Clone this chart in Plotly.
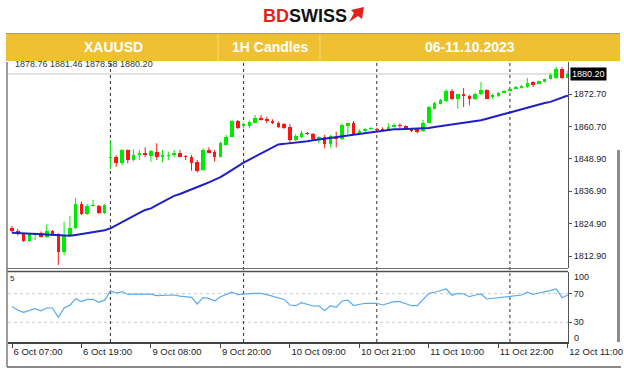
import plotly.graph_objects as go

# ---------------- data ----------------
opens = [1823.46, 1822.35, 1821.02, 1818.66, 1820.76, 1821.61, 1819.91, 1822.24, 1821.02, 1814.60,
         1820.76, 1823.23, 1832.20, 1828.51, 1831.47, 1831.47, 1828.77, 1849.19, 1849.67, 1847.45,
         1852.14, 1848.45, 1850.29, 1851.14, 1850.03, 1851.51, 1849.44, 1850.03, 1850.18, 1851.14,
         1849.92, 1849.67, 1847.71, 1844.76, 1852.14, 1851.51, 1849.67, 1854.09, 1857.05, 1862.96,
         1861.18, 1861.00, 1862.22, 1863.84, 1863.47, 1862.96, 1862.22, 1861.74, 1860.63, 1855.83,
         1856.83, 1858.53, 1858.05, 1856.09, 1857.05, 1854.35, 1857.05, 1856.09, 1861.00, 1862.00,
         1858.05, 1859.04, 1859.78, 1859.89, 1859.78, 1859.26, 1860.74, 1861.48, 1861.00, 1859.89,
         1859.78, 1859.26, 1862.22, 1867.38, 1869.23, 1870.12, 1873.81, 1870.86, 1872.70, 1872.07,
         1870.86, 1872.70, 1874.18, 1871.81, 1872.07, 1873.29, 1874.03, 1874.77, 1875.03, 1875.40,
         1877.24, 1876.61, 1877.24, 1878.46, 1878.72, 1882.15, 1878.76]
highs = [1824.08, 1823.00, 1821.50, 1821.39, 1821.61, 1822.05, 1824.71, 1822.61, 1821.50, 1825.67,
         1827.77, 1834.53, 1833.06, 1832.20, 1833.68, 1831.84, 1832.20, 1855.83, 1850.18, 1852.40,
         1852.40, 1852.40, 1852.14, 1853.14, 1852.14, 1854.61, 1852.14, 1851.51, 1852.14, 1852.14,
         1850.29, 1850.29, 1848.45, 1852.77, 1853.14, 1852.14, 1855.20, 1857.68, 1863.21, 1863.21,
         1862.00, 1862.96, 1865.06, 1865.06, 1864.43, 1863.47, 1862.59, 1862.11, 1861.74, 1858.05,
         1859.26, 1858.89, 1858.42, 1857.31, 1857.68, 1857.68, 1858.89, 1862.00, 1862.22, 1862.84,
         1859.78, 1860.26, 1860.63, 1860.37, 1860.52, 1862.00, 1862.00, 1862.00, 1861.26, 1860.15,
         1860.15, 1863.21, 1868.38, 1869.97, 1870.96, 1874.55, 1874.55, 1872.92, 1875.03, 1872.55,
         1873.29, 1877.24, 1874.55, 1872.92, 1873.55, 1874.29, 1875.03, 1875.76, 1876.13, 1878.72,
         1877.50, 1877.72, 1878.46, 1880.56, 1882.78, 1882.67, 1881.46]
lows = [1821.61, 1820.57, 1818.18, 1818.18, 1818.92, 1819.84, 1819.65, 1820.39, 1809.69, 1813.38,
        1820.39, 1822.98, 1828.14, 1828.14, 1831.20, 1828.51, 1828.51, 1845.01, 1845.97, 1846.49,
        1847.23, 1847.97, 1848.45, 1849.44, 1847.82, 1848.45, 1847.60, 1848.45, 1849.44, 1849.44,
        1848.45, 1844.50, 1843.76, 1844.39, 1850.92, 1847.82, 1849.44, 1853.88, 1856.83, 1859.89,
        1860.15, 1860.15, 1862.00, 1862.96, 1862.00, 1861.74, 1860.26, 1859.89, 1854.61, 1855.46,
        1856.57, 1857.57, 1855.83, 1854.61, 1852.77, 1853.14, 1853.14, 1855.83, 1858.05, 1857.68,
        1857.68, 1858.78, 1859.52, 1859.15, 1859.04, 1859.15, 1860.52, 1860.15, 1859.52, 1858.78,
        1858.30, 1858.78, 1862.11, 1867.16, 1869.01, 1869.86, 1870.60, 1867.38, 1868.01, 1868.64,
        1870.60, 1872.33, 1870.86, 1871.07, 1871.70, 1873.18, 1873.81, 1874.55, 1874.77, 1875.03,
        1875.40, 1876.39, 1877.13, 1878.24, 1878.46, 1878.35, 1878.58]
closes = [1822.24, 1821.02, 1818.66, 1821.02, 1821.39, 1820.13, 1822.24, 1820.76, 1814.60, 1820.76,
          1823.23, 1832.20, 1828.51, 1831.47, 1832.02, 1828.77, 1831.84, 1849.67, 1847.45, 1852.14,
          1848.45, 1850.18, 1851.14, 1850.29, 1851.77, 1849.67, 1850.18, 1850.40, 1850.92, 1849.67,
          1849.44, 1847.45, 1844.50, 1852.14, 1851.14, 1849.67, 1854.61, 1857.05, 1862.96, 1860.15,
          1861.55, 1862.59, 1863.84, 1863.21, 1862.96, 1862.00, 1860.52, 1860.15, 1855.83, 1857.31,
          1858.53, 1858.05, 1856.20, 1857.05, 1854.35, 1857.31, 1856.09, 1861.37, 1862.00, 1858.05,
          1859.26, 1859.89, 1860.15, 1859.52, 1859.26, 1860.52, 1861.37, 1861.00, 1859.78, 1859.26,
          1858.89, 1862.22, 1868.01, 1869.60, 1870.49, 1873.81, 1870.86, 1872.70, 1871.96, 1870.86,
          1872.92, 1874.18, 1871.07, 1872.33, 1873.29, 1873.92, 1874.77, 1875.40, 1875.65, 1876.98,
          1876.24, 1877.50, 1878.24, 1879.93, 1882.15, 1878.72, 1880.20]
moving_avg = [1821.6, 1821.5, 1821.4, 1821.3, 1821.2, 1821.2, 1821.1, 1821.0, 1820.8, 1820.6,
              1820.5, 1820.8, 1821.1, 1821.4, 1821.7, 1822.0, 1822.5, 1823.2, 1824.4, 1825.5,
              1826.7, 1827.8, 1828.9, 1830.0, 1830.6, 1831.8, 1833.0, 1834.1, 1835.2, 1835.9,
              1836.7, 1837.4, 1838.4, 1839.3, 1840.2, 1841.1, 1842.1, 1843.4, 1844.8, 1846.1,
              1847.5, 1848.6, 1849.7, 1850.9, 1852.0, 1853.1, 1854.2, 1854.4, 1854.6, 1854.8,
              1855.1, 1855.4, 1855.7, 1856.0, 1856.3, 1856.6, 1856.9, 1857.2, 1857.5, 1857.8,
              1858.1, 1858.4, 1858.7, 1858.9, 1859.2, 1859.5, 1859.8, 1859.8, 1859.9, 1859.9,
              1859.9, 1860.0, 1860.3, 1860.6, 1860.9, 1861.3, 1861.6, 1861.9, 1862.2, 1862.5,
              1862.6, 1863.1, 1863.7, 1864.2, 1864.8, 1865.4, 1866.0, 1866.6, 1867.2, 1867.8,
              1868.4, 1869.1, 1869.5, 1869.9, 1870.7, 1871.5, 1872.3]
rsi = [52, 47, 44, 47, 49, 46, 50, 50, 37, 50,
       54, 63, 59, 62, 62, 58, 61, 74, 71, 73,
       69, 69.5, 69.6, 69.6, 69.5, 67.2, 67.5, 67.2, 68.2, 66.5,
       65.5, 65, 55.6, 64.4, 63.5, 59.8, 65.8, 69, 72, 68.6,
       69.6, 70, 70.5, 70.5, 68.6, 66.5, 64, 62, 54.2, 53.2,
       57.4, 55, 52.8, 53, 46.2, 53.2, 51, 59.8, 61, 53.5,
       55, 56.6, 56.6, 56.6, 54.2, 57, 58.8, 58.8, 56, 53.2,
       53.2, 62, 70.5, 72, 73.8, 76.6, 67.8, 70.5, 69.6, 65.8,
       68.2, 69.6, 62.6, 63.5, 65, 66, 67.2, 67.5, 68.2, 72,
       69.1, 71, 72.5, 74.2, 76.6, 64.4, 68.2]

time_tick_bars = [0, 12, 24, 36, 48, 60, 72, 84, 96]
time_tick_labels = ["6 Oct 07:00", "6 Oct 19:00", "9 Oct 08:00", "9 Oct 20:00", "10 Oct 09:00",
                    "10 Oct 21:00", "11 Oct 10:00", "11 Oct 22:00", "12 Oct 11:00"]
day_start_bars = [17, 40, 63, 86]
price_ticks = [1884.70, 1872.70, 1860.70, 1848.90, 1836.90, 1824.90, 1812.90]
rsi_levels = [70, 30]
last_price = 1880.20
ohlc_text = "1878.76 1881.46 1878.58 1880.20"

# ---------------- layout helpers (pixel -> paper) ----------------
W, H = 624, 371
ML, MR, MT, MB = 8, 56, 62, 29
PW, PH = W - ML - MR, H - MT - MB
def pxx(x):
    return (x - ML) / PW
def pxy(y):
    return (H - MB - y) / PH

GREEN = "#00ea00"
RED = "#ff1414"
FONT = "Liberation Sans"
TXT = "#1c1c1c"

idx = list(range(len(opens)))
fig = go.Figure()

# wicks
for col, cond in ((GREEN, lambda o, c: c >= o), (RED, lambda o, c: c < o)):
    wx, wy = [], []
    for i in idx:
        if cond(opens[i], closes[i]):
            wx += [i, i, None]
            wy += [lows[i], highs[i], None]
    fig.add_trace(go.Scatter(x=wx, y=wy, mode="lines", line=dict(color=col, width=1),
                             xaxis="x", yaxis="y", hoverinfo="skip"))

# bodies
bases = [min(o, c) for o, c in zip(opens, closes)]
heights = [max(abs(c - o), 0.4) for o, c in zip(opens, closes)]
colors = [GREEN if c >= o else RED for o, c in zip(opens, closes)]
fig.add_trace(go.Bar(x=idx, y=heights, base=bases, width=0.62, marker=dict(color=colors, line=dict(width=0)),
                     xaxis="x", yaxis="y", hoverinfo="skip"))

# moving average
fig.add_trace(go.Scatter(x=idx, y=moving_avg, mode="lines", line=dict(color="#1f1fc8", width=2),
                         xaxis="x", yaxis="y", hoverinfo="skip"))

# RSI
fig.add_trace(go.Scatter(x=idx, y=rsi, mode="lines", line=dict(color="#5aaaf2", width=1.2),
                         xaxis="x", yaxis="y2", hoverinfo="skip"))

shapes = []
shapes.append(dict(type="line", xref="paper", yref="y", x0=0, x1=1, y0=last_price, y1=last_price,
                   line=dict(color="#c4c4c4", width=1), layer="below"))
for lv in rsi_levels:
    shapes.append(dict(type="line", xref="paper", yref="y2", x0=0, x1=1, y0=lv, y1=lv,
                       line=dict(color="#c8c8c8", width=1, dash="dot"), layer="below"))
for b in day_start_bars:
    shapes.append(dict(type="line", xref="x", yref="paper", x0=b, x1=b, y0=0, y1=1,
                       line=dict(color="#303030", width=1, dash="dot"), layer="below"))
shapes.append(dict(type="line", xref="paper", yref="paper", x0=pxx(7), x1=1, y0=pxy(268.5), y1=pxy(268.5),
                   line=dict(color="#707070", width=1)))
shapes.append(dict(type="line", xref="paper", yref="paper", x0=pxx(7), x1=1, y0=pxy(271.5), y1=pxy(271.5),
                   line=dict(color="#505050", width=1.5)))
shapes.append(dict(type="line", xref="paper", yref="paper", x0=pxx(7), x1=pxx(621), y0=pxy(367), y1=pxy(367),
                   line=dict(color="#8a8a8a", width=2)))
shapes.append(dict(type="line", xref="paper", yref="paper", x0=pxx(7), x1=pxx(7), y0=pxy(62), y1=pxy(367),
                   line=dict(color="#7a7a7a", width=1.5)))
shapes.append(dict(type="rect", xref="paper", yref="paper", x0=pxx(617), x1=pxx(620), y0=pxy(150), y1=pxy(342),
                   fillcolor="#8c8c8c", line=dict(width=0), layer="above"))
shapes.append(dict(type="rect", xref="paper", yref="paper", x0=pxx(6), x1=pxx(620), y0=pxy(61), y1=pxy(33),
                   fillcolor="#efc132", line=dict(width=0), layer="above"))
shapes.append(dict(type="line", xref="paper", yref="paper", x0=pxx(6), x1=pxx(620), y0=pxy(33.5), y1=pxy(33.5),
                   line=dict(color="#a89a70", width=1), layer="above"))
for dx in (218, 320):
    shapes.append(dict(type="line", xref="paper", yref="paper", x0=pxx(dx), x1=pxx(dx), y0=pxy(61), y1=pxy(34),
                       line=dict(color="#f6d878", width=1), layer="above"))
pts = [(349, 22), (354, 13), (351, 10), (364, 7), (362, 19), (358, 16)]
path = "M " + " L ".join(f"{pxx(x):.5f} {pxy(y):.5f}" for x, y in pts) + " Z"
shapes.append(dict(type="path", xref="paper", yref="paper", path=path, fillcolor="#e2231a",
                   line=dict(width=0), layer="above"))

def ann(text, x, y, size, color, xanchor="center", **kw):
    d = dict(text=text, xref="paper", yref="paper", x=pxx(x), y=pxy(y), xanchor=xanchor, yanchor="middle",
             showarrow=False, font=dict(family=FONT, size=size, color=color))
    d.update(kw)
    return d

annotations = [
    ann("<b><span style='color:#e2231a'>BD</span>SWISS</b>", 305, 16.5, 18, "#111111"),
    ann("<b>XAUUSD</b>", 113, 47.5, 14, "white"),
    ann("<b>1H Candles</b>", 270, 47.5, 14, "white"),
    ann("<b>06-11.10.2023</b>", 470, 47.5, 14, "white"),
    ann(ohlc_text, 13, 64.5, 9, "#333333", xanchor="left"),
    ann("100", 572, 277, 9, TXT, xanchor="left"),
    ann("0", 572, 337.5, 9, TXT, xanchor="left"),
    ann("5", 8, 278, 8, TXT, xanchor="left"),
    dict(text=f"{last_price:.2f}", xref="paper", yref="y", x=pxx(570), y=last_price, xanchor="left",
         yanchor="middle", showarrow=False, bgcolor="#000000", borderpad=1,
         font=dict(family=FONT, size=9, color="white")),
]

fig.update_layout(
    width=W, height=H, autosize=False,
    margin=dict(l=ML, r=MR, t=MT, b=MB, autoexpand=False),
    paper_bgcolor="white", plot_bgcolor="white",
    showlegend=False, hovermode=False, bargap=0,
    xaxis=dict(domain=[0, 1], anchor="y2", range=[-0.69, 96.03], automargin=False,
               tickvals=time_tick_bars, ticktext=time_tick_labels, ticks="outside", ticklen=4,
               tickcolor="#444444", ticklabelposition="outside right",
               showline=True, linecolor="#444444", linewidth=2, showgrid=False, zeroline=False,
               tickfont=dict(family=FONT, size=9.5, color=TXT)),
    yaxis=dict(domain=[pxy(268), 1], range=[1808.58, 1884.62], side="right", anchor="x", automargin=False,
               tickvals=price_ticks, ticktext=[f"{v:.2f}" for v in price_ticks],
               ticks="outside", ticklen=3, tickcolor="#555555",
               showline=True, linecolor="#555555", linewidth=1, showgrid=False, zeroline=False,
               tickfont=dict(family=FONT, size=9, color=TXT)),
    yaxis2=dict(domain=[0, pxy(272)], range=[2.45, 100.35], side="right", anchor="x", automargin=False,
                tickvals=rsi_levels, ticktext=[str(v) for v in rsi_levels],
                ticks="outside", ticklen=3, tickcolor="#555555",
                showline=True, linecolor="#555555", linewidth=1, showgrid=False, zeroline=False,
                tickfont=dict(family=FONT, size=9, color=TXT)),
    shapes=shapes, annotations=annotations,
)

fig.write_html("out.html", config={"displayModeBar": False, "staticPlot": True},
               post_script="document.body.style.margin='0';document.body.style.padding='0';")
